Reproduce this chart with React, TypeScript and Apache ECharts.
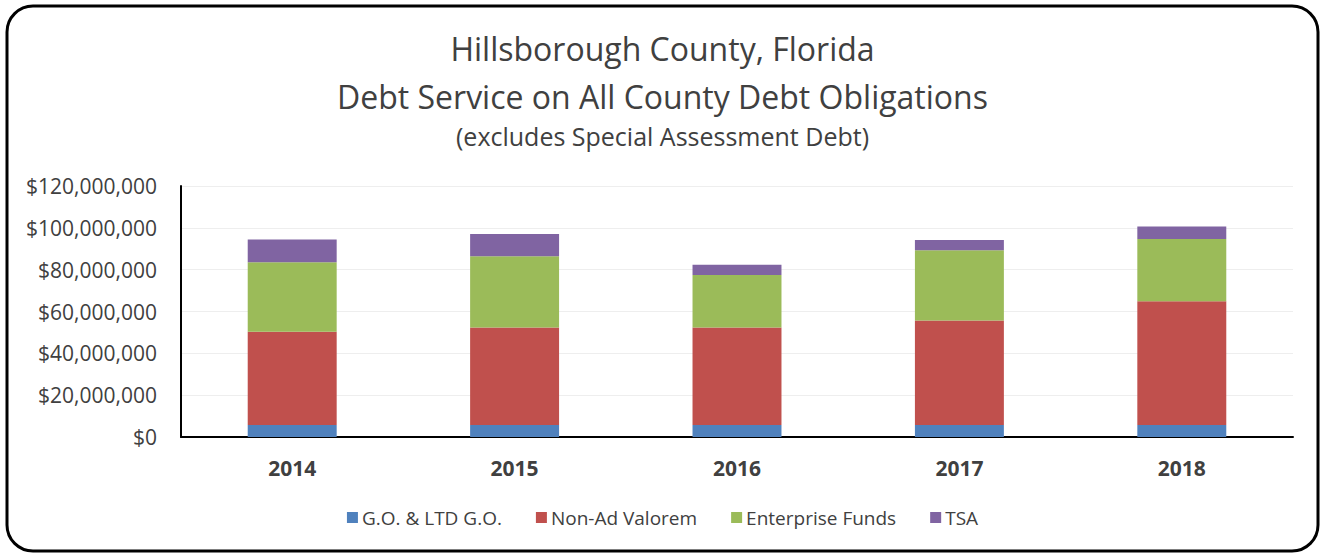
import React, { useEffect, useRef } from "react";
import * as echarts from "echarts";

const categories = ["2014", "2015", "2016", "2017", "2018"];
const goValues = [5700000, 5700000, 5700000, 5700000, 5700000];
const nonAdValues = [44600000, 46600000, 46600000, 50000000, 59200000];
const enterpriseValues = [33200000, 34100000, 25200000, 33600000, 29800000];
const tsaValues = [10900000, 10700000, 4900000, 4900000, 5900000];
const seriesNames = ["G.O. & LTD G.O.", "Non-Ad Valorem", "Enterprise Funds", "TSA"];
const seriesColors = ["#4f81bd", "#c0504d", "#9bbb59", "#8064a2"];

const FONT = "'Open Sans', 'Noto Sans', sans-serif";

function fmt(v: number): string {
  return "$" + v.toLocaleString("en-US");
}

export default function App() {
  const ref = useRef<HTMLDivElement>(null);
  useEffect(() => {
    document.body.style.margin = "0";
    if (!ref.current) return;
    const chart = echarts.init(ref.current, undefined, { renderer: "svg" });
    const data = [goValues, nonAdValues, enterpriseValues, tsaValues];
    chart.setOption({
      animation: false,
      backgroundColor: "#ffffff",
      textStyle: { fontFamily: FONT },
      title: [
        {
          text: "Hillsborough County, Florida",
          left: "center",
          top: 27,
          textStyle: { fontFamily: FONT, fontSize: 32, fontWeight: "normal", color: "#404040" },
        },
        {
          text: "Debt Service on All County Debt Obligations",
          left: "center",
          top: 75,
          textStyle: { fontFamily: FONT, fontSize: 32, fontWeight: "normal", color: "#404040" },
        },
        {
          text: "(excludes Special Assessment Debt)",
          left: "center",
          top: 118,
          textStyle: { fontFamily: FONT, fontSize: 25, fontWeight: "normal", color: "#404040" },
        },
      ],
      graphic: [
        {
          type: "rect",
          shape: { x: 7, y: 6, width: 1311, height: 545, r: 26 },
          style: { fill: "none", stroke: "#000000", lineWidth: 3 },
          silent: true,
          z: 100,
        },
      ],
      legend: {
        bottom: 22,
        left: "center",
        icon: "rect",
        itemWidth: 11,
        itemHeight: 11,
        itemGap: 34,
        data: seriesNames,
        textStyle: { fontFamily: FONT, fontSize: 19, color: "#404040", padding: [0, 0, 0, -1] },
      },
      grid: { left: 181, right: 32, top: 186, bottom: 117 },
      xAxis: {
        type: "category",
        data: categories,
        axisLine: { lineStyle: { color: "#000000", width: 2 } },
        axisTick: { show: false },
        axisLabel: { fontFamily: FONT, fontSize: 21, fontWeight: "bold", color: "#404040", margin: 20 },
      },
      yAxis: {
        type: "value",
        min: 0,
        max: 120000000,
        interval: 20000000,
        axisLine: { show: true, lineStyle: { color: "#000000", width: 2 } },
        axisTick: { show: false },
        splitLine: { lineStyle: { color: "#eeeeee", width: 1 } },
        axisLabel: {
          fontFamily: FONT,
          fontSize: 21,
          color: "#404040",
          margin: 24,
          formatter: (v: number) => fmt(v),
        },
      },
      series: seriesNames.map((name, i) => ({
        name,
        type: "bar",
        stack: "total",
        barWidth: "40%",
        data: data[i],
        itemStyle: { color: seriesColors[i] },
      })),
    });
    return () => chart.dispose();
  }, []);
  return <div ref={ref} style={{ width: 1325, height: 554 }} />;
}
